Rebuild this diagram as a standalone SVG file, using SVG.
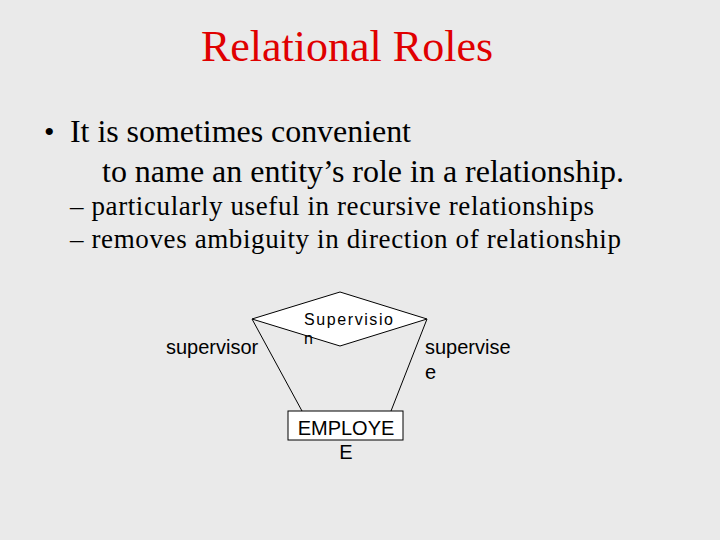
<svg xmlns="http://www.w3.org/2000/svg" width="720" height="540" viewBox="0 0 720 540">
<style>
.s{font-family:"Liberation Serif",serif}
.a{font-family:"Liberation Sans",sans-serif;fill:#000}
.ln{stroke:#000;stroke-width:1;fill:none}
</style>
<rect width="720" height="540" fill="#eaeaea"/>
<text class="s" x="347" y="61" font-size="44" fill="#e00000" text-anchor="middle">Relational Roles</text>
<text class="s" x="44" y="142" font-size="30">•</text>
<text class="s" x="70" y="142" font-size="32" textLength="341">It is sometimes convenient</text>
<text class="s" x="102" y="182" font-size="32" textLength="522">to name an entity’s role in a relationship.</text>
<text class="s" x="70" y="215" font-size="27" textLength="524">– particularly useful in recursive relationships</text>
<text class="s" x="70" y="248" font-size="27" textLength="551">– removes ambiguity in direction of relationship</text>
<g id="connectors">
<line class="ln" x1="252" y1="319" x2="302" y2="411"/>
<line class="ln" x1="427" y1="319" x2="391" y2="411"/>
</g>
<g id="supervision">
<polygon points="252,319 340,292 427,319 340,346" fill="#fff" stroke="#000"/>
<text class="a" x="304" y="325" font-size="16" fill="#333" textLength="89">Supervisio</text>
<text class="a" x="304" y="344" font-size="16" fill="#333">n</text>
</g>
<g id="employee">
<rect x="288" y="411" width="115" height="29" fill="#fff" stroke="#000"/>
<text class="a" x="346" y="435" font-size="20" text-anchor="middle">EMPLOYE</text>
<text class="a" x="346" y="459" font-size="20" text-anchor="middle">E</text>
</g>
<g id="roles">
<text class="a" x="166" y="354" font-size="20">supervisor</text>
<text class="a" x="425" y="354" font-size="20">supervise</text>
<text class="a" x="425" y="379" font-size="20">e</text>
</g>
</svg>
